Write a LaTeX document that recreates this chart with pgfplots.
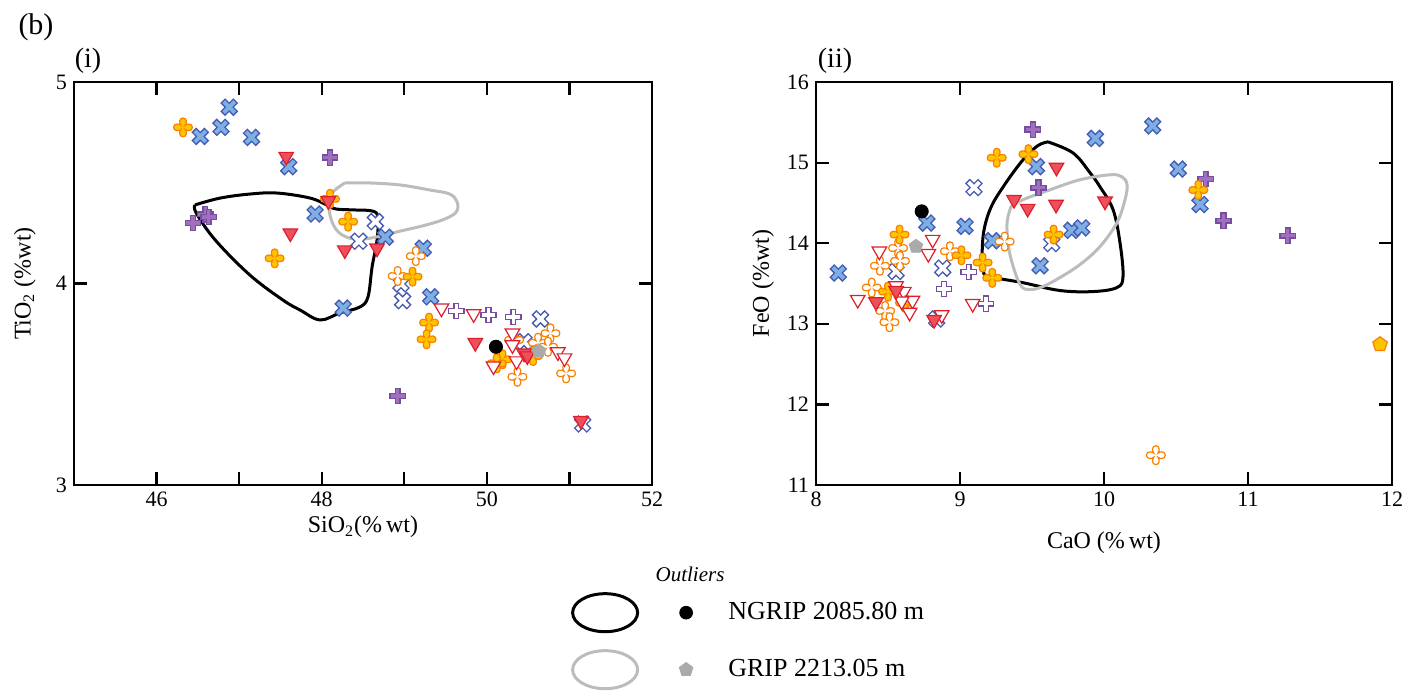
\documentclass[border=0pt]{standalone}
\usepackage{fontspec}
\setmainfont{Liberation Serif}
\usepackage{pgfplots}
\pgfplotsset{compat=1.18}

\definecolor{bfill}{RGB}{125,175,228}
\definecolor{bline}{RGB}{70,92,178}
\definecolor{pfill}{RGB}{160,112,190}
\definecolor{pline}{RGB}{118,78,160}
\definecolor{rfill}{RGB}{236,80,92}
\definecolor{rline}{RGB}{222,30,42}
\definecolor{ofill}{RGB}{255,196,0}
\definecolor{oline}{RGB}{250,128,0}
\definecolor{gcont}{RGB}{188,188,188}
\definecolor{gmark}{RGB}{170,170,170}

\pgfdeclareplotmark{thickplus}{%
  \pgfpathmoveto{\pgfqpoint{0.32\pgfplotmarksize}{\pgfplotmarksize}}%
  \pgfpathlineto{\pgfqpoint{0.32\pgfplotmarksize}{0.32\pgfplotmarksize}}%
  \pgfpathlineto{\pgfqpoint{\pgfplotmarksize}{0.32\pgfplotmarksize}}%
  \pgfpathlineto{\pgfqpoint{\pgfplotmarksize}{-0.32\pgfplotmarksize}}%
  \pgfpathlineto{\pgfqpoint{0.32\pgfplotmarksize}{-0.32\pgfplotmarksize}}%
  \pgfpathlineto{\pgfqpoint{0.32\pgfplotmarksize}{-\pgfplotmarksize}}%
  \pgfpathlineto{\pgfqpoint{-0.32\pgfplotmarksize}{-\pgfplotmarksize}}%
  \pgfpathlineto{\pgfqpoint{-0.32\pgfplotmarksize}{-0.32\pgfplotmarksize}}%
  \pgfpathlineto{\pgfqpoint{-\pgfplotmarksize}{-0.32\pgfplotmarksize}}%
  \pgfpathlineto{\pgfqpoint{-\pgfplotmarksize}{0.32\pgfplotmarksize}}%
  \pgfpathlineto{\pgfqpoint{-0.32\pgfplotmarksize}{0.32\pgfplotmarksize}}%
  \pgfpathlineto{\pgfqpoint{-0.32\pgfplotmarksize}{\pgfplotmarksize}}%
  \pgfpathclose
  \pgfusepathqfillstroke
}
% four-lobed rounded star (clover)
\pgfdeclareplotmark{clover}{%
  \pgfpathmoveto{\pgfqpoint{0.22\pgfplotmarksize}{0.22\pgfplotmarksize}}%
  \pgfpathcurveto{\pgfqpoint{0.42\pgfplotmarksize}{0.42\pgfplotmarksize}}{\pgfqpoint{0.44\pgfplotmarksize}{\pgfplotmarksize}}{\pgfqpoint{0pt}{\pgfplotmarksize}}%
  \pgfpathcurveto{\pgfqpoint{-0.44\pgfplotmarksize}{\pgfplotmarksize}}{\pgfqpoint{-0.42\pgfplotmarksize}{0.42\pgfplotmarksize}}{\pgfqpoint{-0.22\pgfplotmarksize}{0.22\pgfplotmarksize}}%
  \pgfpathcurveto{\pgfqpoint{-0.42\pgfplotmarksize}{0.42\pgfplotmarksize}}{\pgfqpoint{-\pgfplotmarksize}{0.44\pgfplotmarksize}}{\pgfqpoint{-\pgfplotmarksize}{0pt}}%
  \pgfpathcurveto{\pgfqpoint{-\pgfplotmarksize}{-0.44\pgfplotmarksize}}{\pgfqpoint{-0.42\pgfplotmarksize}{-0.42\pgfplotmarksize}}{\pgfqpoint{-0.22\pgfplotmarksize}{-0.22\pgfplotmarksize}}%
  \pgfpathcurveto{\pgfqpoint{-0.42\pgfplotmarksize}{-0.42\pgfplotmarksize}}{\pgfqpoint{-0.44\pgfplotmarksize}{-\pgfplotmarksize}}{\pgfqpoint{0pt}{-\pgfplotmarksize}}%
  \pgfpathcurveto{\pgfqpoint{0.44\pgfplotmarksize}{-\pgfplotmarksize}}{\pgfqpoint{0.42\pgfplotmarksize}{-0.42\pgfplotmarksize}}{\pgfqpoint{0.22\pgfplotmarksize}{-0.22\pgfplotmarksize}}%
  \pgfpathcurveto{\pgfqpoint{0.42\pgfplotmarksize}{-0.42\pgfplotmarksize}}{\pgfqpoint{\pgfplotmarksize}{-0.44\pgfplotmarksize}}{\pgfqpoint{\pgfplotmarksize}{0pt}}%
  \pgfpathcurveto{\pgfqpoint{\pgfplotmarksize}{0.44\pgfplotmarksize}}{\pgfqpoint{0.42\pgfplotmarksize}{0.42\pgfplotmarksize}}{\pgfqpoint{0.22\pgfplotmarksize}{0.22\pgfplotmarksize}}%
  \pgfpathclose
  \pgfusepathqfillstroke
}

\pgfplotsset{
  bxf/.style={only marks, forget plot, mark=thickplus, mark size=4.3pt, mark options={rotate=45, fill=bfill, draw=bline, line width=0.65pt}},
  bxo/.style={only marks, forget plot, mark=thickplus, mark size=4.3pt, mark options={rotate=45, fill=white, draw=bline, line width=0.65pt}},
  ppf/.style={only marks, forget plot, mark=thickplus, mark size=3.8pt, mark options={fill=pfill, draw=pline, line width=0.65pt}},
  ppo/.style={only marks, forget plot, mark=thickplus, mark size=3.8pt, mark options={fill=white, draw=pline, line width=0.65pt}},
  rtf/.style={only marks, forget plot, mark=triangle*, mark size=4.2pt, mark options={rotate=180, fill=rfill, draw=rline, line width=0.6pt}},
  rto/.style={only marks, forget plot, mark=triangle*, mark size=4.2pt, mark options={rotate=180, fill=white, draw=rline, line width=0.6pt}},
  ocf/.style={only marks, forget plot, mark=clover, mark size=4.7pt, mark options={fill=ofill, draw=oline, line width=0.6pt}},
  oco/.style={only marks, forget plot, mark=clover, mark size=4.7pt, mark options={fill=white, draw=oline, line width=0.6pt}},
  ngrip/.style={only marks, forget plot, mark=*, mark size=3.3pt, mark options={fill=black, draw=black}},
  grip/.style={only marks, forget plot, mark=pentagon*, mark size=3.6pt, mark options={fill=gmark, draw=gmark}},
  ncont/.style={forget plot, black, line width=1.5pt, smooth, tension=0.6, mark=none},
  gcontour/.style={forget plot, gcont, line width=1.5pt, smooth, tension=0.6, mark=none},
  myaxis/.style={
    scale only axis, height=201.5pt,
    axis line style={line width=1.1pt},
    every tick/.style={line width=1.1pt, black},
    tick align=inside, major tick length=6.5pt, minor tick length=6.5pt,
    tick label style={font=\fontsize{11}{13}\selectfont},
    label style={font=\fontsize{12}{14}\selectfont},
    /pgf/number format/assume math mode=true,
  },
}

\begin{document}
\begin{tikzpicture}
% ---------------- (i) ----------------
\begin{axis}[myaxis, at={(37pt,-242.5pt)}, anchor=south west, width=289pt,
  xmin=45, xmax=52, ymin=3, ymax=5,
  xtick={46,48,50,52}, minor xtick={47,49,51}, ytick={3,4,5},
  xlabel={SiO\textsubscript{2}(\%\,wt)}, ylabel={TiO\textsubscript{2} (\%wt)},
  xlabel style={at={(axis description cs:0.5,-0.104)}, anchor=center},
  ylabel style={at={(axis description cs:-0.085,0.5)}, anchor=center},
  legend style={at={(0.849,-0.255)}, anchor=north west, draw=none, fill=none,
    font=\fontsize{13}{15}\selectfont, row sep=8pt, column sep=15.5pt,
    cells={anchor=west}},
  legend cell align=left,
]
\addplot[ncont] coordinates {
(46.465,4.39) (46.77,4.424) (47.13,4.444) (47.46,4.449) (47.86,4.424) (48.06,4.39)
(48.17,4.37) (48.40,4.365) (48.61,4.36) (48.68,4.33) (48.67,4.216) (48.61,4.082)
(48.56,3.933) (48.46,3.883) (48.22,3.854) (47.98,3.819) (47.74,3.868) (47.53,3.918)
(47.13,4.042) (46.71,4.216) (46.48,4.35) (46.465,4.39)};
\addplot[gcontour] coordinates {
(48.28,4.499) (48.58,4.499) (48.95,4.489) (49.31,4.464) (49.55,4.444) (49.64,4.404)
(49.63,4.355) (49.49,4.32) (49.26,4.29) (48.95,4.26) (48.65,4.23) (48.40,4.22)
(48.20,4.256) (48.10,4.34) (48.11,4.439) (48.28,4.499)};
\addplot[bxf] coordinates {(46.53,4.73) (46.78,4.775) (46.88,4.875) (47.15,4.725) (47.60,4.58)
 (47.92,4.345) (48.26,3.878) (49.23,4.175) (49.32,3.934) (48.77,4.23)};
\addplot[bxo] coordinates {(48.45,4.21) (48.65,4.307) (48.96,3.998) (48.98,3.915)
 (50.45,3.711) (50.65,3.824) (51.16,3.303)};
\addplot[ppf] coordinates {(48.10,4.625) (46.59,4.343) (46.63,4.33) (46.44,4.30) (48.92,3.443)};
\addplot[ppo] coordinates {(49.63,3.864) (50.02,3.844) (50.32,3.835)};
\addplot[oco] coordinates {(49.14,4.136) (48.92,4.037) (50.77,3.753) (50.62,3.706) (50.37,3.537)
 (50.74,3.686) (50.96,3.554) (50.33,3.72)};
\addplot[ocf] coordinates {(46.32,4.775) (48.10,4.42) (48.32,4.307) (47.43,4.125) (49.10,4.034)
 (49.30,3.806) (49.27,3.723) (50.19,3.624) (50.12,3.604) (50.56,3.64)};
\addplot[rto] coordinates {(49.45,3.877) (49.84,3.849) (50.31,3.753) (50.31,3.695) (50.08,3.59)
 (50.36,3.615) (50.86,3.66) (50.94,3.63)};
\addplot[rtf] coordinates {(47.57,4.63) (48.08,4.41) (48.28,4.166) (47.62,4.25) (48.67,4.175)
 (49.86,3.706) (50.45,3.654) (50.49,3.64) (51.14,3.319)};
\addplot[ngrip] coordinates {(50.11,3.686)};
\addplot[grip] coordinates {(50.63,3.665)};
\addlegendimage{legend image code/.code={
  \draw[black, line width=1.5pt] (16.25pt,0pt) ellipse [x radius=16.25pt, y radius=9.5pt];
  \fill[black] (56.75pt,0pt) circle [radius=3.2pt];}}
\addlegendentry{NGRIP 2085.80 m}
\addlegendimage{legend image code/.code={
  \draw[gcont, line width=1.5pt] (16.25pt,0pt) ellipse [x radius=16.25pt, y radius=9.5pt];
  \fill[gmark, shift={(56.75pt,0pt)}] (90:3.6pt) -- (162:3.6pt) -- (234:3.6pt) -- (306:3.6pt) -- (18:3.6pt) -- cycle;}}
\addlegendentry{GRIP 2213.05 m}
\end{axis}
% ---------------- (ii) ----------------
\begin{axis}[myaxis, at={(408pt,-242.5pt)}, anchor=south west, width=288pt,
  xmin=8, xmax=12, ymin=11, ymax=16,
  xtick={8,9,10,11,12}, ytick={11,12,13,14,15,16},
  xlabel={CaO (\%\,wt)}, ylabel={FeO (\%wt)},
  xlabel style={at={(axis description cs:0.5,-0.144)}, anchor=center},
  ylabel style={at={(axis description cs:-0.092,0.5)}, anchor=center},
]
\addplot[ncont] coordinates {
(9.611,15.257) (9.785,15.12) (9.903,14.874) (9.972,14.70) (10.063,14.416) (10.111,14.007)
(10.132,13.587) (10.09,13.45) (9.924,13.40) (9.694,13.413) (9.4375,13.51) (9.208,13.587)
(9.16,13.673) (9.16,14.08) (9.208,14.416) (9.30,14.70) (9.4375,15.035) (9.54,15.21) (9.611,15.257)};
\addplot[gcontour] coordinates {
(9.354,14.453) (9.4375,14.54) (9.625,14.663) (9.833,14.787) (10.042,14.849) (10.125,14.824)
(10.16,14.725) (10.146,14.54) (10.09,14.255) (9.972,13.958) (9.833,13.735) (9.694,13.574)
(9.576,13.463) (9.486,13.426) (9.417,13.488) (9.347,13.86) (9.326,14.23) (9.354,14.453)};
\addplot[bxf] coordinates {(10.338,15.455) (9.94,15.30) (10.516,14.92) (10.667,14.48) (9.53,14.95)
 (8.77,14.25) (9.035,14.21) (9.224,14.03) (9.776,14.16) (9.845,14.19) (9.556,13.72) (8.155,13.63)};
\addplot[bxo] coordinates {(9.097,14.69) (9.637,13.995) (8.556,13.65) (8.88,13.69) (8.838,13.06)};
\addplot[ppf] coordinates {(9.505,15.41) (9.545,14.69) (10.706,14.795) (10.83,14.28) (11.275,14.094)};
\addplot[ppo] coordinates {(9.06,13.645) (8.89,13.43) (9.18,13.25)};
\addplot[oco] coordinates {(9.31,14.02) (8.57,13.94) (8.583,13.78) (8.444,13.72) (8.93,13.90)
 (8.387,13.45) (8.48,13.16) (8.51,13.02) (10.36,11.37)};
\addplot[ocf] coordinates {(9.255,15.06) (9.475,15.105) (8.58,14.107) (9.65,14.107) (9.01,13.85)
 (9.157,13.76) (9.224,13.57) (8.50,13.40) (8.618,13.26) (10.655,14.66)};
\addplot[rto] coordinates {(8.81,14.045) (8.78,13.87) (8.44,13.9) (8.556,13.47) (8.61,13.40)
 (8.67,13.29) (8.65,13.14) (8.595,13.28) (8.29,13.30) (9.088,13.25) (8.873,13.11)};
\addplot[rtf] coordinates {(9.67,14.94) (9.375,14.54) (9.47,14.43) (9.667,14.48) (10.007,14.52)
 (8.417,13.27) (8.556,13.41) (8.82,13.05)};
\addplot[only marks, forget plot, mark=pentagon*, mark size=3.8pt, mark options={fill=ofill, draw=oline, line width=0.6pt}]
 coordinates {(11.917,12.745)};
\addplot[ngrip] coordinates {(8.734,14.395)};
\addplot[grip] coordinates {(8.694,13.96)};
\end{axis}
% ---------------- annotations ----------------
\node[font=\fontsize{15}{17}\selectfont] at (18pt,-13.5pt) {(b)};
\node[font=\fontsize{14}{16}\selectfont] at (44pt,-30.5pt) {(i)};
\node[font=\fontsize{14}{16}\selectfont] at (417.5pt,-30.5pt) {(ii)};
\node[font=\fontsize{10.5}{12}\selectfont\itshape] at (345pt,-287pt) {Outliers};
\pgfresetboundingbox
\path[use as bounding box] (0pt,0pt) rectangle (704pt,-346pt);
\end{tikzpicture}
\end{document}
